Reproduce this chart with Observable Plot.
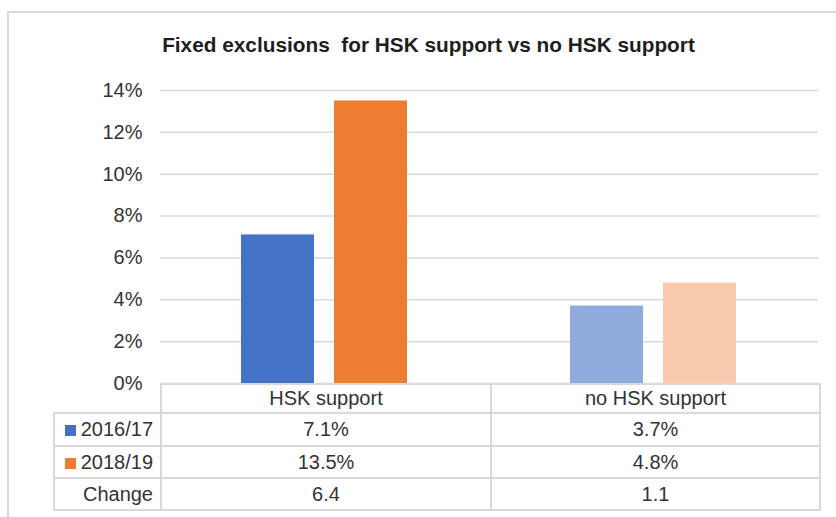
<!DOCTYPE html>
<html>
<head>
<meta charset="utf-8">
<script src="https://cdn.jsdelivr.net/npm/d3@7"></script>
<script src="https://cdn.jsdelivr.net/npm/@observablehq/plot@0.6"></script>
<style>
  html, body { margin: 0; padding: 0; background: #fff; }
  #wrap { position: relative; width: 836px; height: 517px; overflow: hidden; background: #fff;
          font-family: "Liberation Sans", Arial, sans-serif; }
  #frame { position: absolute; left: 7px; top: 11px; width: 1000px; height: 1000px;
           border-left: 2px solid #d9d9d9; border-top: 2px solid #d9d9d9; }
  #title { position: absolute; left: 0; top: 34px; width: 857px; text-align: center;
           font-weight: bold; font-size: 20.8px; line-height: 21px; color: #1e1e1e; white-space: pre; }
  #chart { position: absolute; left: 0; top: 0; }
  #tbl { position: absolute; left: 53px; top: 383px; border-collapse: collapse; table-layout: fixed;
         width: 766px; font-size: 20px; color: #333; }
  #tbl td { border: 2px solid #d9d9d9; padding: 0; text-align: center; white-space: nowrap; }
  #tbl td.lab { text-align: right; padding-right: 7px; }
  #tbl td.blank { border-left: none; border-top: none; }
  .key { display: inline-block; width: 11px; height: 11px; margin-right: 5px; vertical-align: 0px; }
</style>
</head>
<body>
<div id="wrap">
  <div id="frame"></div>
  <div id="chart"></div>
  <div id="title"></div>
  <table id="tbl"></table>
</div>
<script>
// ---- data ----
const titleText = "Fixed exclusions  for HSK support vs no HSK support";
const categories = ["HSK support", "no HSK support"];
const seriesNames = ["2016/17", "2018/19"];
const values2016 = [0.071, 0.037];
const values2018 = [0.135, 0.048];
const changeLabel = "Change";
const changeValues = [6.4, 1.1];
const yTicks = [0, 0.02, 0.04, 0.06, 0.08, 0.10, 0.12, 0.14];

// ---- styles ----
const palette = {
  "HSK support": {"2016/17": "#4472C4", "2018/19": "#ED7D31"},
  "no HSK support": {"2016/17": "#8FAADC", "2018/19": "#F8CBAD"}
};
const keyColors = {"2016/17": "#4472C4", "2018/19": "#ED7D31"};

const seriesValues = {"2016/17": values2016, "2018/19": values2018};
const data = categories.flatMap((c, i) =>
  seriesNames.map(s => ({category: c, series: s, value: seriesValues[s][i]})));

document.getElementById("title").textContent = titleText;

const chart = Plot.plot({
  width: 836,
  height: 517,
  marginTop: 90,
  marginBottom: 134,
  marginLeft: 160,
  marginRight: 18,
  style: {fontFamily: "Liberation Sans, Arial, sans-serif", fontSize: "20px", color: "#333", background: "transparent"},
  fx: {domain: categories, padding: 0, axis: null},
  x: {domain: seriesNames, paddingInner: 0.213, paddingOuter: 0.857, axis: null},
  y: {domain: [0, 0.14], ticks: yTicks, tickFormat: d => `${Math.round(d * 100)}%`,
      tickSize: 0, tickPadding: 18, label: null},
  marks: [
    Plot.ruleY(yTicks, {stroke: "#d9d9d9", strokeWidth: 1.5}),
    Plot.barY(data, {fx: "category", x: "series", y: "value",
                     fill: d => palette[d.category][d.series]})
  ]
});
document.getElementById("chart").appendChild(chart);

// ---- data table ----
const fmtPct = v => (v * 100).toFixed(1) + "%";
const tbl = document.getElementById("tbl");
const colWidths = [107, 330, 329];
const cg = document.createElement("colgroup");
colWidths.forEach(w => { const c = document.createElement("col"); c.style.width = w + "px"; cg.appendChild(c); });
tbl.appendChild(cg);

function addRow(height, cells) {
  const tr = document.createElement("tr");
  tr.style.height = height + "px";
  cells.forEach(c => tr.appendChild(c));
  tbl.appendChild(tr);
}
function cell(text, cls) {
  const td = document.createElement("td");
  if (cls) td.className = cls;
  if (text != null) td.textContent = text;
  return td;
}
addRow(29, [cell(null, "blank"), ...categories.map(c => cell(c))]);
seriesNames.forEach(s => {
  const lab = cell(null, "lab");
  const key = document.createElement("span");
  key.className = "key";
  key.style.background = keyColors[s];
  lab.appendChild(key);
  lab.appendChild(document.createTextNode(s));
  addRow(s === seriesNames[0] ? 33 : 32, [lab, ...seriesValues[s].map(v => cell(fmtPct(v)))]);
});
addRow(32, [cell(changeLabel, "lab"), ...changeValues.map(v => cell(v.toFixed(1)))]);
</script>
</body>
</html>
